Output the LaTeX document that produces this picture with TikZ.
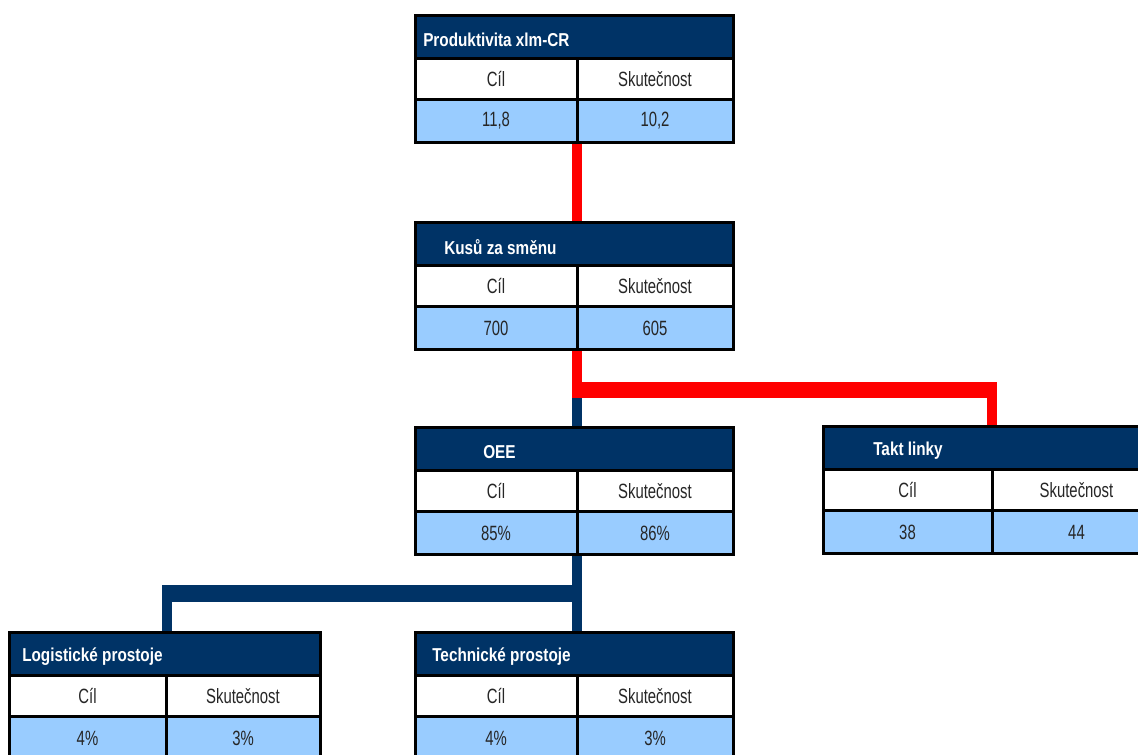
\documentclass[tikz,border=0pt]{standalone}
\usepackage{fontspec}
\setmainfont{Liberation Sans}
\newfontfamily\hdfont{Liberation Sans}[FakeStretch=0.82]
\newfontfamily\bdfont{Liberation Sans}[FakeStretch=0.72]
\usetikzlibrary{calc}
\definecolor{hdrblue}{RGB}{0,51,102}
\definecolor{valblue}{RGB}{153,204,255}
\definecolor{conred}{RGB}{255,0,0}
\tikzset{
  frame/.style={draw=black, line width=2.25pt},
  hdrtext/.style={inner sep=0pt, anchor=west, text=white, font=\hdfont\bfseries\fontsize{14}{16}\selectfont},
  celltext/.style={inner sep=0pt, text=black!85, font=\bdfont\fontsize{15.5}{18}\selectfont},
  redv/.style={draw=conred, line width=7.5pt},
  redh/.style={draw=conred, line width=12pt},
  bluev/.style={draw=hdrblue, line width=7.5pt},
  blueh/.style={draw=hdrblue, line width=12.75pt},
}
\newcommand\kpibox[9]{%
  \fill[hdrblue] (#2,#3) rectangle (#5,#3+43);
  \fill[white] (#2,#3+43) rectangle (#5,#3+84);
  \fill[valblue] (#2,#3+84) rectangle (#5,#3+127);
  \draw[frame] (#2,#3) rectangle (#5,#3+127);
  \draw[frame] (#2,#3+43) -- (#5,#3+43);
  \draw[frame] (#2,#3+84) -- (#5,#3+84);
  \draw[frame] (#4,#3+43) -- (#4,#3+127);
  \node[hdrtext] (#1-title) at (#2+#7,#3+25) {#6};
  \node[celltext] (#1-c1) at ({(#2+#4)/2},#3+64) {Cíl};
  \node[celltext] (#1-s1) at ({(#4+#5)/2},#3+64) {Skutečnost};
  \node[celltext] (#1-c2) at ({(#2+#4)/2},#3+106) {#8};
  \node[celltext] (#1-s2) at ({(#4+#5)/2},#3+106) {#9};
  \coordinate (#1-top) at (#4,#3);
  \coordinate (#1-bot) at (#4,#3+127);
}
\begin{document}
\begin{tikzpicture}[x=0.75pt,y=-0.75pt]
\useasboundingbox (0,0) rectangle (1138,754);
\clip (0,0) rectangle (1138,754);
% anchor points of the boxes (boxes drawn later)
\coordinate (prod-bot) at (577,142);
\coordinate (kus-top) at (577,222);
\coordinate (kus-bot) at (577,349);
\coordinate (oee-top) at (577,427);
\coordinate (oee-bot) at (577,554);
\coordinate (takt-top) at (992,426);
\coordinate (log-top) at (167,632);
\coordinate (tech-top) at (577,632);
\coordinate (j1) at (577,390);
\coordinate (j1r) at (992,390);
\coordinate (j2) at (577,593);
\coordinate (j2l) at (167,593);
% connectors
\draw[bluev] (kus-bot) -- (oee-top);
\draw[redv] (prod-bot) -- (kus-top);
\draw[redv] (kus-bot) -- ($(j1)+(0,8)$);
\draw[redh] ($(j1)+(-5,0)$) -- ($(j1r)+(5,0)$);
\draw[redv] (j1r) -- (takt-top);
\draw[bluev] (oee-bot) -- (tech-top);
\draw[blueh] ($(j2)+(5,0)$) -- ($(j2l)+(-5,0)$);
\draw[bluev] (j2l) -- (log-top);
% boxes
\kpibox{prod}{415}{15}{577}{733}{Produktivita xlm-CR}{8}{11,8}{10,2}
\kpibox{kus}{415}{222}{577}{733}{Kusů za směnu}{29}{700}{605}
\kpibox{oee}{415}{427}{577}{733}{OEE}{68}{85\%}{86\%}
\kpibox{takt}{823}{426}{992}{1161}{Takt linky}{50}{38}{44}
\kpibox{log}{9}{632}{166}{320}{Logistické prostoje}{13}{4\%}{3\%}
\kpibox{tech}{415}{632}{577}{733}{Technické prostoje}{17}{4\%}{3\%}
\end{tikzpicture}
\end{document}
